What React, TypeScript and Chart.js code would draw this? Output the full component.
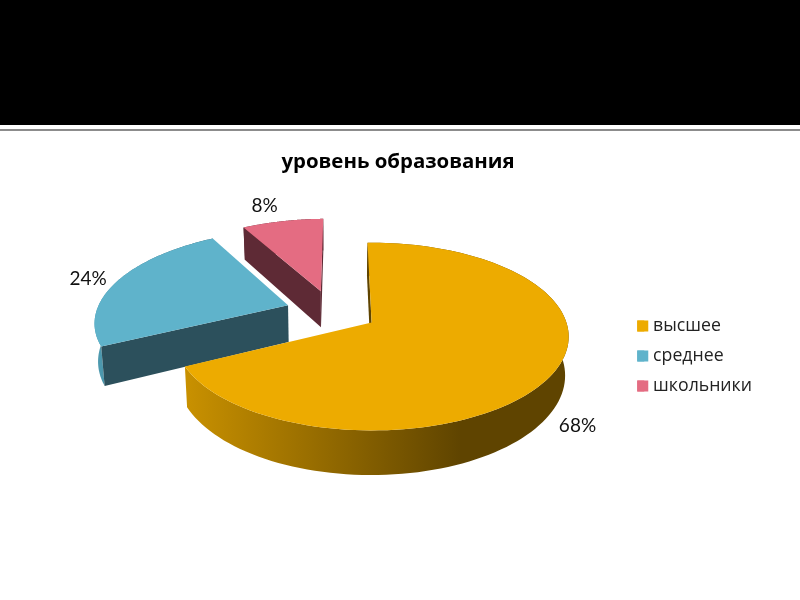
import React, { useEffect, useRef } from "react";
import { Chart, registerables } from "chart.js";

Chart.register(...registerables);

const categories = ["высшее", "среднее", "школьники"];
const shares = [68, 24, 8];
const chartTitle = "уровень образования";
const topColors = ["#EDAB00", "#5FB3CB", "#E46C82"];
const wallColors = ["#5F4400", "#2C505C", "#5E2A35"];
const labelShift = [[25, 52], [-29, -2], [-18, -15]];

const PROJ = { cx: 370, cy: 323, sx: 195, sy: 91.9, k: 0.149, depth: 38, du: -0.2, dv: -0.13, vanishX: 330, taper: 0.015 };

function project(u: number, v: number, down = 0) {
  const uu = u + PROJ.du;
  const vv = v + PROJ.dv;
  const s = 1 / (1 - PROJ.k * vv);
  const x = PROJ.cx + PROJ.sx * uu * s;
  return {
    x: down ? PROJ.vanishX + (x - PROJ.vanishX) * (1 - PROJ.taper) : x,
    y: PROJ.cy + PROJ.sy * vv * s + down * s,
  };
}

function path(ctx: CanvasRenderingContext2D, pts: { x: number; y: number }[]) {
  ctx.beginPath();
  pts.forEach((p, i) => (i ? ctx.lineTo(p.x, p.y) : ctx.moveTo(p.x, p.y)));
  ctx.closePath();
}

function signedArea(pts: { x: number; y: number }[]) {
  let a = 0;
  pts.forEach((p, i) => {
    const q = pts[(i + 1) % pts.length];
    a += p.x * q.y - q.x * p.y;
  });
  return a;
}

function sliceGeometry(arc: any) {
  const p = arc.getProps(["startAngle", "endAngle", "outerRadius"], true);
  const mid = (p.startAngle + p.endAngle) / 2;
  const ox = (arc.options.offset / p.outerRadius) * Math.cos(mid);
  const oy = (arc.options.offset / p.outerRadius) * Math.sin(mid);
  const rim: [number, number][] = [];
  const n = 120;
  for (let i = 0; i <= n; i++) {
    const a = p.startAngle + ((p.endAngle - p.startAngle) * i) / n;
    rim.push([ox + Math.cos(a), oy + Math.sin(a)]);
  }
  return { mid, ox, oy, rim };
}

const pie3d = {
  id: "pie3d",
  beforeDraw(chart: any) {
    chart.titleBlock.left = 0;
    chart.titleBlock.right = chart.width - 4;
  },
  beforeDatasetsDraw(chart: any) {
    const ctx: CanvasRenderingContext2D = chart.ctx;
    const arcs = chart.getDatasetMeta(0).data;
    ctx.save();
    [2, 1, 0].forEach((idx) => {
      const g = sliceGeometry(arcs[idx]);
      const topRim = g.rim.map(([u, v]) => project(u, v));
      const botRim = g.rim.map(([u, v]) => project(u, v, PROJ.depth));
      const apexT = project(g.ox, g.oy);
      const apexB = project(g.ox, g.oy, PROJ.depth);
      const last = topRim.length - 1;
      const startWall = [apexT, topRim[0], botRim[0], apexB];
      const endWall = [topRim[last], apexT, apexB, botRim[last]];
      const xs = topRim.map((p) => p.x);
      const x0 = Math.min(...xs);
      const x1 = Math.max(...xs);
      const grad = ctx.createLinearGradient(x0, 0, x1, 0);
      if (idx === 0) {
        grad.addColorStop(0, "#C99100");
        grad.addColorStop(0.72, "#5F4400");
        grad.addColorStop(1, "#5F4400");
      } else if (idx === 1) {
        grad.addColorStop(0, "#4E9CB2");
        grad.addColorStop(1, "#2C505C");
      } else {
        grad.addColorStop(0, "#5E2A35");
        grad.addColorStop(1, "#5E2A35");
      }
      path(ctx, [...topRim, ...[...botRim].reverse()]);
      ctx.fillStyle = grad;
      ctx.fill();
      [startWall, endWall].forEach((w) => {
        if (signedArea(w) < 0) {
          path(ctx, w);
          ctx.fillStyle = wallColors[idx];
          ctx.fill();
        }
      });
      path(ctx, [apexT, ...topRim]);
      ctx.fillStyle = topColors[idx];
      ctx.fill();
    });
    ctx.restore();
    return false;
  },
  afterDraw(chart: any) {
    const ctx: CanvasRenderingContext2D = chart.ctx;
    const arcs = chart.getDatasetMeta(0).data;
    ctx.save();
    ctx.font = "19px Lato";
    ctx.fillStyle = "#111";
    ctx.textAlign = "center";
    ctx.textBaseline = "middle";
    arcs.forEach((arc: any, i: number) => {
      const g = sliceGeometry(arc);
      const p = project(g.ox + Math.cos(g.mid), g.oy + Math.sin(g.mid));
      ctx.fillText(shares[i] + "%", p.x + labelShift[i][0], p.y + labelShift[i][1]);
    });
    chart.legend.legendHitBoxes.forEach((b: any, i: number) => {
      ctx.fillStyle = topColors[i];
      ctx.fillRect(b.left, b.top + (b.height - 11) / 2, 11, 11);
    });
    ctx.restore();
  },
};

export default function App() {
  const ref = useRef<HTMLCanvasElement>(null);
  useEffect(() => {
    document.body.style.margin = "0";
    const chart = new Chart(ref.current!, {
      type: "pie",
      data: {
        labels: categories,
        datasets: [{ data: shares, backgroundColor: topColors, borderWidth: 0, offset: 42 }],
      },
      options: {
        animation: false,
        responsive: false,
        rotation: -1.3,
        layout: { padding: { top: 150, right: 38, bottom: 38 } },
        plugins: {
          tooltip: { enabled: false },
          title: {
            display: true,
            text: chartTitle,
            color: "#000",
            font: { family: "'Open Sans'", size: 20.4, weight: "bold" },
            padding: { top: 0, bottom: 0 },
          },
          legend: {
            position: "right",
            labels: {
              boxWidth: 7,
              boxHeight: 11,
              padding: 12.3,
              color: "#222",
              font: { family: "'Open Sans'", size: 17.7 },
            },
          },
        },
      },
      plugins: [pie3d],
    } as any);
    return () => chart.destroy();
  }, []);
  return (
    <div style={{ position: "relative", width: 800, height: 600, background: "#fff", overflow: "hidden" }}>
      <div style={{ position: "absolute", left: 0, top: 0, width: 800, height: 125, background: "#000" }} />
      <div style={{ position: "absolute", left: 0, top: 129, width: 800, height: 2, background: "#8c8c8c" }} />
      <canvas ref={ref} width={800} height={600} style={{ position: "absolute", left: 0, top: 0 }} />
    </div>
  );
}
